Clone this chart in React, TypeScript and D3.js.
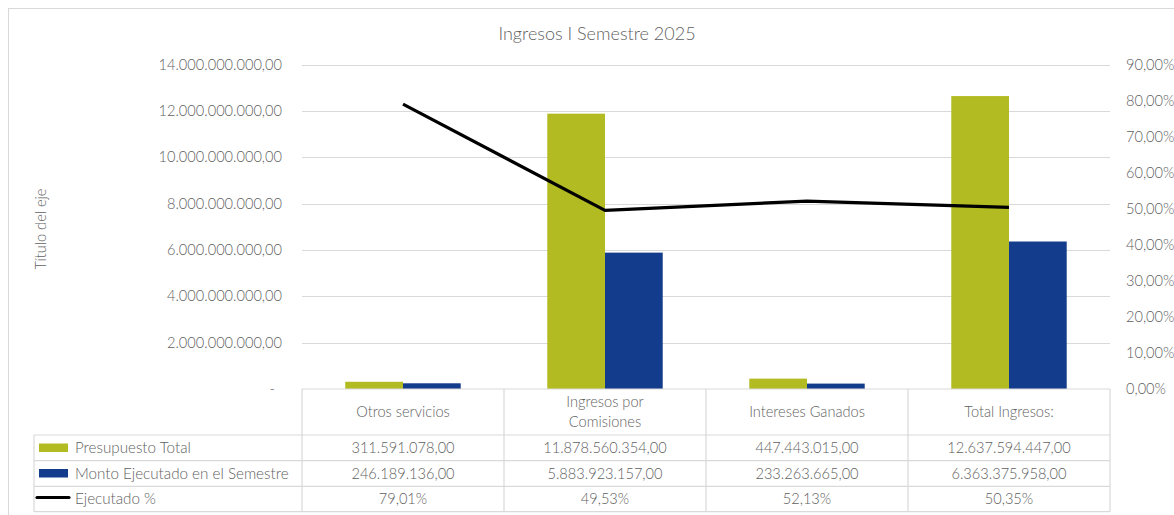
import React from "react";
import * as d3 from "d3";

const categories = ["Otros servicios", "Ingresos por Comisiones", "Intereses Ganados", "Total Ingresos:"];
const categoryLines = [["Otros servicios"], ["Ingresos por", "Comisiones"], ["Intereses Ganados"], ["Total Ingresos:"]];
const presupuesto = [311591078.0, 11878560354.0, 447443015.0, 12637594447.0];
const ejecutado = [246189136.0, 5883923157.0, 233263665.0, 6363375958.0];
const ejecutadoPct = [0.7901, 0.4953, 0.5213, 0.5035];
const leftTicks = [0, 2e9, 4e9, 6e9, 8e9, 10e9, 12e9, 14e9];
const rightTicks = [0, 0.1, 0.2, 0.3, 0.4, 0.5, 0.6, 0.7, 0.8, 0.9];
const seriesNames = ["Presupuesto Total", "Monto Ejecutado en el Semestre", "Ejecutado %"];
const title = "Ingresos I Semestre 2025";
const axisTitle = "Título del eje";

const GREEN = "#B2BB21";
const BLUE = "#143C8C";
const GRID = "#D9D9D9";
const TEXT = "#5F5F5F";
const FONT = "Lato, 'Open Sans', sans-serif";

const loc = d3.formatLocale({ decimal: ",", thousands: ".", grouping: [3], currency: ["", ""] });
const fmtNum = loc.format(",.2f");
const fmtPct = loc.format(".2%");

export default function App() {
  const W = 1174, H = 515;
  const left = 302, right = 1110, top = 64.5, bottom = 389;
  const x = d3.scaleBand<string>().domain(categories).range([left, right]).padding(0);
  const yL = d3.scaleLinear().domain([0, 14e9]).range([bottom, top]);
  const yR = d3.scaleLinear().domain([0, 0.9]).range([bottom, top]);
  const bw = x.bandwidth() / 3.5;
  const cx = (c: string) => (x(c) as number) + x.bandwidth() / 2;
  const line = d3.line<number>().x((_, i) => cx(categories[i])).y((d) => yR(d));

  const rowTops = [389, 435, 460.7, 486.3, 511.7];
  const tableLeft = 34;
  const fs = 14.6;

  return (
    <svg width={W} height={H} style={{ position: "absolute", left: 0, top: 0, background: "#fff" }} fontFamily={FONT} fontWeight={300}>
      <rect x={8.5} y={8.5} width={1300} height={700} fill="#fff" stroke={GRID} strokeWidth={1} />
      <text x={597} y={40} textAnchor="middle" fontSize={18} fill={TEXT}>{title}</text>
      <text transform={`translate(46,229) rotate(-90)`} textAnchor="middle" fontSize={fs} fill={TEXT}>{axisTitle}</text>

      {leftTicks.filter((t) => t > 0).map((t) => (
        <line key={"g" + t} x1={left} x2={right} y1={Math.round(yL(t)) + 0.5} y2={Math.round(yL(t)) + 0.5} stroke={GRID} strokeWidth={1} />
      ))}
      {leftTicks.map((t) => (
        <text key={"l" + t} x={t === 0 ? 275 : 282} y={yL(t)} dy="0.35em" textAnchor="end" fontSize={fs} fill={TEXT}>
          {t === 0 ? "-" : fmtNum(t)}
        </text>
      ))}
      {rightTicks.map((t) => (
        <text key={"r" + t} x={1126} y={yR(t)} dy="0.35em" textAnchor="start" fontSize={fs} fill={TEXT}>{fmtPct(t)}</text>
      ))}

      {categories.map((c, i) => (
        <g key={c}>
          <rect x={cx(c) - bw} y={yL(presupuesto[i])} width={bw} height={bottom - yL(presupuesto[i])} fill={GREEN} />
          <rect x={cx(c)} y={yL(ejecutado[i])} width={bw} height={bottom - yL(ejecutado[i])} fill={BLUE} />
        </g>
      ))}
      <path d={line(ejecutadoPct) || ""} fill="none" stroke="#000" strokeWidth={3.2} strokeLinejoin="round" />

      {/* data table */}
      <g stroke={GRID} strokeWidth={1.2} fill="none">
        <line x1={left} x2={right} y1={rowTops[0]} y2={rowTops[0]} />
        {rowTops.slice(1).map((y) => (
          <line key={"h" + y} x1={tableLeft} x2={right} y1={y} y2={y} />
        ))}
        <line x1={tableLeft} x2={tableLeft} y1={rowTops[1]} y2={rowTops[4]} />
        {[...categories.map((c) => x(c) as number), right].map((xx) => (
          <line key={"v" + xx} x1={xx} x2={xx} y1={rowTops[0]} y2={rowTops[4]} />
        ))}
      </g>
      {categories.map((c, i) => {
        const lines = categoryLines[i];
        const mid = (rowTops[0] + rowTops[1]) / 2;
        return (
          <g key={"t" + c} fontSize={fs} fill={TEXT} textAnchor="middle">
            {lines.map((ln, j) => (
              <text key={ln} x={cx(c)} y={mid + (j - (lines.length - 1) / 2) * 19.5} dy="0.35em">{ln}</text>
            ))}
            <text x={cx(c)} y={(rowTops[1] + rowTops[2]) / 2} dy="0.35em">{fmtNum(presupuesto[i])}</text>
            <text x={cx(c)} y={(rowTops[2] + rowTops[3]) / 2} dy="0.35em">{fmtNum(ejecutado[i])}</text>
            <text x={cx(c)} y={(rowTops[3] + rowTops[4]) / 2} dy="0.35em">{fmtPct(ejecutadoPct[i])}</text>
          </g>
        );
      })}
      {/* legend keys */}
      <rect x={39} y={443.5} width={29} height={8.5} fill={GREEN} />
      <rect x={39} y={469} width={29} height={8.5} fill={BLUE} />
      <line x1={37} x2={69} y1={497.5} y2={497.5} stroke="#000" strokeWidth={3.2} strokeLinecap="round" />
      {seriesNames.map((s, i) => (
        <text key={s} x={75} y={(rowTops[i + 1] + rowTops[i + 2]) / 2} dy="0.35em" fontSize={15.2} fill={TEXT}>{s}</text>
      ))}
    </svg>
  );
}
